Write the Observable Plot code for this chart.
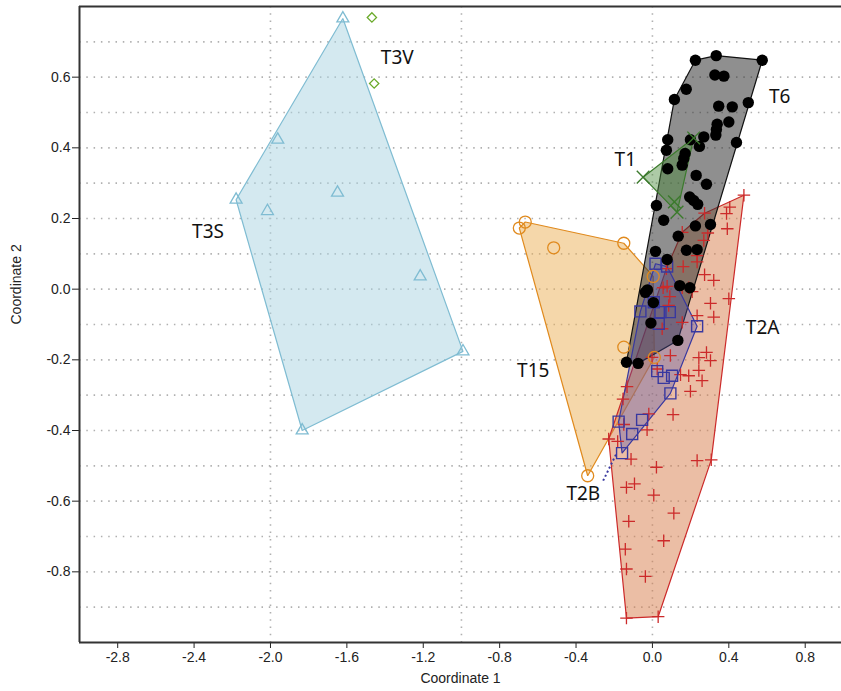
<!DOCTYPE html>
<html><head><meta charset="utf-8">
<script src="https://cdn.jsdelivr.net/npm/d3@7"></script>
<script src="https://cdn.jsdelivr.net/npm/@observablehq/plot@0.6"></script>
<style>body{margin:0;background:#fff}#chart svg{display:block}</style>
</head><body><div id="chart"></div>
<script>
// ---- data (Coordinate 1, Coordinate 2) ----
const T3S = [[-1.621,0.766],[-1.962,0.423],[-2.180,0.253],[-1.649,0.273],[-2.016,0.221],[-1.216,0.036],[-0.992,-0.176],[-1.834,-0.400]];
const T3V = [[-1.469,0.769],[-1.457,0.582]];
const T6 = [[0.225,0.648],[0.334,0.661],[0.575,0.648],[0.327,0.606],[0.374,0.603],[0.177,0.566],[0.115,0.537],[0.502,0.528],
  [0.347,0.518],[0.418,0.516],[0.400,0.473],[0.339,0.467],[0.335,0.452],[0.332,0.436],[0.269,0.431],[0.199,0.423],
  [0.080,0.423],[0.440,0.415],[0.246,0.404],[0.073,0.393],[0.171,0.384],[0.164,0.370],[0.156,0.351],[0.080,0.341],
  [0.229,0.322],[0.283,0.297],[0.195,0.261],[0.216,0.251],[0.237,0.240],[0.021,0.237],[0.059,0.195],[0.225,0.179],
  [0.304,0.183],[0.135,0.150],[0.178,0.110],[0.234,0.112],[0.016,0.107],[0.077,0.084],[0.143,0.010],[0.196,0.004],
  [-0.026,-0.002],[-0.037,-0.009],[0.005,-0.038],[-0.008,-0.096],[0.133,-0.145],[-0.136,-0.207],[-0.075,-0.210]];
const T1 = [[-0.049,0.317],[0.216,0.428],[0.115,0.247],[0.129,0.218]];
const T15 = [[-0.697,0.173],[-0.666,0.190],[-0.517,0.117],[-0.150,0.130],[0.004,0.036],[-0.150,-0.164],[0.010,-0.193],[-0.339,-0.528]];
const T2B = [[0.016,0.072],[0.077,0.064],[0.007,-0.037],[-0.063,-0.063],[0.042,-0.065],[0.091,-0.065],[0.033,-0.098],[0.234,-0.105],
  [0.025,-0.232],[0.059,-0.251],[0.103,-0.245],[0.094,-0.295],[-0.054,-0.370],[-0.177,-0.375],[-0.106,-0.410],[-0.159,-0.464]];
const T2A = [[0.479,0.266],[0.405,0.232],[0.388,0.214],[0.273,0.215],[0.392,0.171],[0.156,0.161],[0.290,0.159],[0.269,0.138],
  [0.234,0.095],[0.234,0.077],[0.161,0.064],[0.073,0.058],[0.273,0.041],[0.321,0.025],[0.077,0.008],[0.056,0.004],
  [0.156,0.004],[0.190,0.004],[0.208,-0.007],[0.400,-0.027],[0.304,-0.040],[0.091,-0.021],[0.085,-0.046],[0.321,-0.079],
  [0.234,-0.075],[0.156,-0.094],[0.051,-0.112],[0.094,-0.188],[0.283,-0.179],[0.243,-0.194],[0.304,-0.202],[-0.002,-0.193],
  [0.147,-0.242],[0.190,-0.245],[0.243,-0.230],[0.260,-0.259],[0.025,-0.226],[0.199,-0.289],[-0.133,-0.276],[-0.154,-0.311],
  [0.108,-0.355],[-0.019,-0.353],[-0.028,-0.398],[-0.150,-0.383],[-0.229,-0.424],[-0.182,-0.431],[-0.112,-0.481],[0.234,-0.485],
  [0.308,-0.483],[0.021,-0.504],[-0.094,-0.551],[-0.136,-0.561],[0.007,-0.583],[0.112,-0.634],[-0.124,-0.657],[0.059,-0.712],
  [-0.142,-0.736],[-0.136,-0.792],[-0.037,-0.813],[-0.136,-0.931],[0.030,-0.927]];

const groupNames = ["T3S","T3V","T6","T1","T15","T2A","T2B"];
const labelX = [-2.327,-1.336,0.666,-0.142,-0.624,0.577,-0.362];
const labelY = [0.161,0.654,0.543,0.365,-0.230,-0.111,-0.579];
const leader = [{x1:-0.258, y1:-0.542, x2:-0.189, y2:-0.466}];

const xTicks = [-2.8,-2.4,-2.0,-1.6,-1.2,-0.8,-0.4,0.0,0.4,0.8];
const yTicks = [-0.8,-0.6,-0.4,-0.2,0.0,0.2,0.4,0.6];
const xGrid = [-2,-1,0];
const yGrid = [-0.9,-0.8,-0.7,-0.6,-0.5,-0.4,-0.3,-0.2,-0.1,0,0.1,0.2,0.3,0.4,0.5,0.6,0.7];

// ---- styles ----
const hullStyles = [
  {data:T3S, fill:"#a9d3e1", op:0.5,  stroke:"#7fbcd2"},
  {data:T15, fill:"#ebaf55", op:0.5,  stroke:"#e08a1e"},
  {data:T2A, fill:"#d77d4b", op:0.5,  stroke:"#cc2a2a"},
  {data:T6,  fill:"#333333", op:0.55, stroke:"#111111"},
  {data:T2B, fill:"#5050a8", op:0.35, stroke:"#3838a0"},
  {data:T1,  fill:"#4a8a3a", op:0.45, stroke:"#3b7a2c"}
];
const dotStyles = [
  {data:T2A, symbol:d3.symbolPlus,      r:4.1, stroke:"#cc2a2a", fill:"none", sw:1.3},
  {data:T2B, symbol:d3.symbolSquare2,   r:7,   stroke:"#3838a0", fill:"none", sw:1.4},
  {data:T6,  symbol:d3.symbolCircle,    r:5.7, stroke:"none",    fill:"#000", sw:0},
  {data:T15, symbol:d3.symbolCircle,    r:6,   stroke:"#e08a1e", fill:"none", sw:1.3},
  {data:T1,  symbol:d3.symbolTimes,     r:5.8, stroke:"#3b7a2c", fill:"none", sw:1.4},
  {data:T3S, symbol:d3.symbolTriangle2, r:5.7, stroke:"#7fbcd2", fill:"none", sw:1.3},
  {data:T3V, symbol:d3.symbolDiamond2,  r:4.2, stroke:"#6aaa2a", fill:"none", sw:1.3}
];

const labels = groupNames.map((n,i) => ({name:n, x:labelX[i], y:labelY[i]}));
const grid = {stroke:"#b0b0b0", strokeWidth:1.6, strokeDasharray:"1.5,5.8"};

const marks = [
  Plot.ruleY(yGrid, grid),
  Plot.ruleX(xGrid, grid),
  ...hullStyles.map(h => Plot.hull(h.data, {x:d=>d[0], y:d=>d[1], fill:h.fill, fillOpacity:h.op, stroke:h.stroke, strokeWidth:1.2})),
  Plot.link(leader, {x1:"x1", y1:"y1", x2:"x2", y2:"y2", stroke:"#3838a0", strokeWidth:2, strokeDasharray:"2,2.5"}),
  ...dotStyles.map(s => Plot.dot(s.data, {x:d=>d[0], y:d=>d[1], symbol:()=>s.symbol, r:s.r, stroke:s.stroke, fill:s.fill, strokeWidth:s.sw})),
  Plot.text(labels, {x:"x", y:"y", text:"name", fontSize:19, fontFamily:"Noto Sans", fill:"#111"}),
  Plot.ruleX([-3], {stroke:"#333", strokeWidth:2}),
  Plot.ruleY([-1, 0.8], {stroke:"#333", strokeWidth:2}),
  Plot.text(["Coordinate 1"], {frameAnchor:"bottom", dy:40, fontSize:14}),
  Plot.text(["Coordinate 2"], {frameAnchor:"left", dx:-63, rotate:-90, fontSize:14})
];

const chart = Plot.plot({
  width: 841, height: 691,
  marginLeft: 79, marginRight: 0, marginTop: 6, marginBottom: 49,
  style: {fontFamily:"Liberation Sans, Arial, sans-serif", fontSize:"14px", color:"#222", background:"#fff"},
  x: {domain:[-3, 0.99], ticks:xTicks, tickFormat:d=>d.toFixed(1), tickSize:6, tickPadding:4, label:null},
  y: {domain:[-1, 0.8], ticks:yTicks, tickFormat:d=>d.toFixed(1), tickSize:7, tickPadding:2, label:null},
  symbol: {type:"identity"},
  marks
});
document.getElementById("chart").appendChild(chart);
</script>
</body></html>
